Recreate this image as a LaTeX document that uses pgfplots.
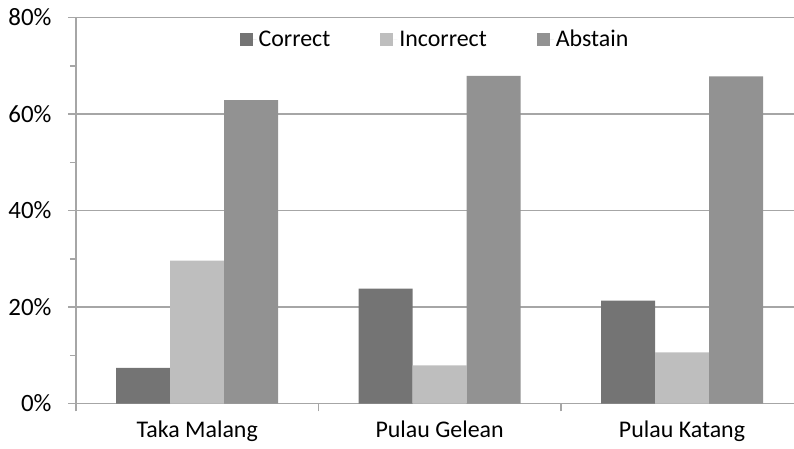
\documentclass[border=0pt]{standalone}
\usepackage{fontspec}
\setmainfont{Carlito}
\usepackage{pgfplots}
\pgfplotsset{compat=1.18}
\definecolor{cCorrect}{RGB}{116,116,116}
\definecolor{cIncorrect}{RGB}{190,190,190}
\definecolor{cAbstain}{RGB}{146,146,146}
\definecolor{gridgray}{RGB}{166,166,166}
\newcommand{\ls}{\rule[-3bp]{0pt}{19bp}}
\begin{document}
\begin{tikzpicture}[x=1bp,y=1bp]
\begin{axis}[
  at={(0,0)}, anchor=south west,
  scale only axis,
  width=718bp, height=386bp,
  xmin=-0.5, xmax=2.462,
  ymin=0, ymax=80,
  ybar=0pt, bar width=54bp,
  axis lines*=left,
  axis line style={draw=gridgray, line width=1.5bp, -},
  xtick={-0.5,0.5,1.5}, xticklabels={},
  extra x ticks={0,1,2},
  extra x tick labels={Taka Malang, Pulau Gelean, Pulau Katang},
  extra x tick style={major tick length=0pt, xticklabel style={yshift=-14bp}},
  ytick={0,20,40,60,80},
  minor ytick={10,30,50,70},
  yticklabel={\pgfmathprintnumber{\tick}\%},
  ymajorgrids,
  major grid style={draw=gridgray, line width=1.5bp},
  tick style={draw=gridgray, line width=1.5bp},
  tick align=outside,
  major tick length=8bp, minor tick length=6bp,
  xtick pos=bottom, ytick pos=left,
  /pgf/number format/assume math mode=true,
  tick label style={font=\fontsize{24}{28}\selectfont, text=black},
  yticklabel style={xshift=-13bp, font=\fontsize{25}{28}\selectfont},
  legend style={at={(0.5,0.944)}, anchor=center, draw=none, fill=none,
    legend columns=3, font=\fontsize{24}{28}\selectfont,
    /tikz/every even column/.append style={column sep=48bp}},
  legend image code/.code={\fill[#1] (0bp,-6.5bp) rectangle (13bp,6.5bp); \path (13bp,0) -- (17bp,0);},
]
\addplot[fill=cCorrect, draw=none] coordinates {(0,7.4) (1,23.8) (2,21.3)};
\addplot[fill=cIncorrect, draw=none] coordinates {(0,29.6) (1,7.9) (2,10.6)};
\addplot[fill=cAbstain, draw=none] coordinates {(0,62.9) (1,67.9) (2,67.8)};
\legend{\ls Correct, \ls Incorrect, \ls Abstain}
\end{axis}
\pgfresetboundingbox
\path (-76bp,-45.5bp) rectangle (718bp,403.5bp);
\end{tikzpicture}
\end{document}
